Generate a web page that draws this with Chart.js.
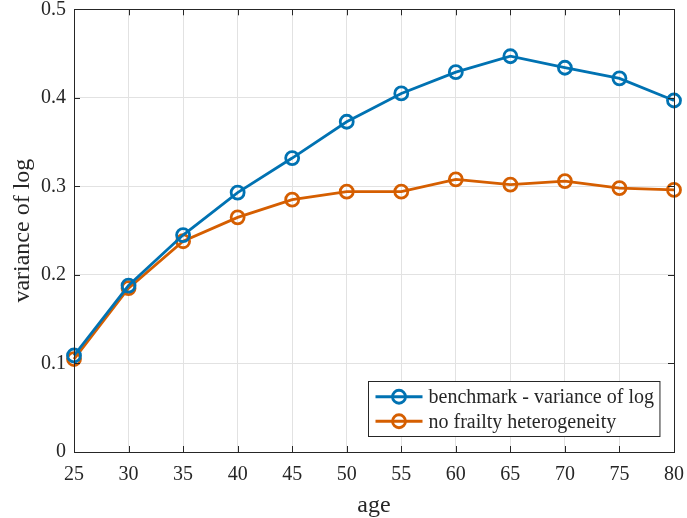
<!DOCTYPE html>
<html>
<head>
<meta charset="utf-8">
<script src="https://cdn.jsdelivr.net/npm/chart.js@4"></script>
<style>
  html, body { margin: 0; padding: 0; background: #ffffff; }
  canvas { display: block; }
</style>
</head>
<body>
<canvas id="chart" width="687" height="518"></canvas>
<script>
// Age grid and the two variance profiles
const ages = [25, 30, 35, 40, 45, 50, 55, 60, 65, 70, 75, 80];
const benchmark = [0.109, 0.188, 0.245, 0.293, 0.332, 0.373, 0.405, 0.429, 0.447, 0.434, 0.422, 0.397];
const noFrailty = [0.105, 0.185, 0.238, 0.265, 0.285, 0.294, 0.294, 0.308, 0.302, 0.306, 0.298, 0.296];
const seriesLabels = ['benchmark - variance of log', 'no frailty heterogeneity'];
const xTitle = 'age';
const yTitle = 'variance of log';

const BLUE = '#0072B2';
const ORANGE = '#D55E00';
const AXIS = '#262626';
const GRID = '#e2e2e2';
const SERIF = '"Liberation Serif", "Times New Roman", serif';

const toPoints = (vals) => ages.map((a, i) => ({ x: a, y: vals[i] }));

// Box around the axes with inward tick marks on all four sides
const frameTicks = {
  id: 'frameTicks',
  afterDraw(chart) {
    const { ctx, chartArea: a, scales } = chart;
    const len = 6;
    ctx.save();
    ctx.strokeStyle = AXIS;
    ctx.lineWidth = 1;
    ctx.beginPath();
    scales.x.ticks.forEach(t => {
      const px = Math.round(scales.x.getPixelForValue(t.value)) + 0.5;
      ctx.moveTo(px, a.bottom); ctx.lineTo(px, a.bottom - len);
      ctx.moveTo(px, a.top); ctx.lineTo(px, a.top + len);
    });
    scales.y.ticks.forEach(t => {
      const py = Math.round(scales.y.getPixelForValue(t.value)) + 0.5;
      ctx.moveTo(a.left, py); ctx.lineTo(a.left + len, py);
      ctx.moveTo(a.right, py); ctx.lineTo(a.right - len, py);
    });
    ctx.stroke();
    ctx.strokeRect(Math.round(a.left) + 0.5, Math.round(a.top) + 0.5,
                   Math.round(a.right - a.left), Math.round(a.bottom - a.top));
    ctx.restore();
  }
};

// Boxed legend in the lower right corner of the plot
const boxLegend = {
  id: 'boxLegend',
  afterDraw(chart) {
    const { ctx, chartArea: a } = chart;
    ctx.save();
    ctx.font = '20px ' + SERIF;
    const sets = chart.data.datasets;
    const textW = Math.max(...sets.map(d => ctx.measureText(d.label).width));
    const rowH = 24.5;
    const sampleW = 47;
    const w = 7 + sampleW + 6 + textW + 6;
    const h = rowH * sets.length + 6;
    const x0 = Math.round(a.right - 15 - w) + 0.5;
    const y0 = Math.round(a.bottom - 16 - h) + 0.5;
    ctx.fillStyle = '#ffffff';
    ctx.fillRect(x0, y0, w, h);
    ctx.strokeStyle = AXIS;
    ctx.lineWidth = 1;
    ctx.strokeRect(x0, y0, w, h);
    sets.forEach((d, i) => {
      const cy = y0 + 3 + rowH * (i + 0.5);
      ctx.strokeStyle = d.borderColor;
      ctx.lineWidth = 2.8;
      ctx.beginPath();
      ctx.moveTo(x0 + 7, cy); ctx.lineTo(x0 + 7 + sampleW, cy);
      ctx.stroke();
      ctx.beginPath();
      ctx.arc(x0 + 7 + sampleW / 2, cy, 6.5, 0, Math.PI * 2);
      ctx.stroke();
      ctx.fillStyle = AXIS;
      ctx.textBaseline = 'middle';
      ctx.textAlign = 'left';
      ctx.fillText(d.label, x0 + 7 + sampleW + 6, cy + 1);
    });
    ctx.restore();
  }
};

const noEdgePadding = (scale) => {
  scale.paddingTop = 0;
  scale.paddingBottom = 0;
  scale.paddingLeft = 0;
  scale.paddingRight = 0;
};

new Chart(document.getElementById('chart'), {
  type: 'line',
  data: {
    datasets: [
      {
        label: seriesLabels[0],
        data: toPoints(benchmark),
        borderColor: BLUE,
        borderWidth: 2.8,
        pointRadius: 6.5,
        pointBorderWidth: 2.8,
        pointBackgroundColor: 'rgba(0,0,0,0)',
        pointBorderColor: BLUE,
        tension: 0
      },
      {
        label: seriesLabels[1],
        data: toPoints(noFrailty),
        borderColor: ORANGE,
        borderWidth: 2.8,
        pointRadius: 6.5,
        pointBorderWidth: 2.8,
        pointBackgroundColor: 'rgba(0,0,0,0)',
        pointBorderColor: ORANGE,
        tension: 0
      }
    ]
  },
  options: {
    responsive: false,
    animation: false,
    clip: false,
    layout: { padding: { top: 9, right: 13, left: 0, bottom: 0 } },
    plugins: {
      legend: { display: false },
      tooltip: { enabled: false }
    },
    scales: {
      x: {
        type: 'linear',
        min: 25,
        max: 80,
        afterFit(scale) { scale.height = 66; noEdgePadding(scale); },
        ticks: {
          stepSize: 5,
          color: AXIS,
          padding: 11,
          font: { family: SERIF, size: 20 }
        },
        grid: { color: GRID, drawTicks: false },
        border: { display: false },
        title: {
          display: true,
          text: xTitle,
          color: AXIS,
          font: { family: SERIF, size: 24, lineHeight: 1 },
          padding: { top: 0, bottom: 0 }
        }
      },
      y: {
        min: 0,
        max: 0.5,
        afterFit(scale) { scale.width = 74; noEdgePadding(scale); },
        ticks: {
          stepSize: 0.1,
          color: AXIS,
          padding: 8,
          font: { family: SERIF, size: 20 }
        },
        grid: { color: GRID, drawTicks: false },
        border: { display: false },
        title: {
          display: true,
          text: yTitle,
          color: AXIS,
          font: { family: SERIF, size: 24, lineHeight: 1 },
          padding: { top: 11, bottom: 0 }
        }
      }
    }
  },
  plugins: [frameTicks, boxLegend]
});
</script>
</body>
</html>
